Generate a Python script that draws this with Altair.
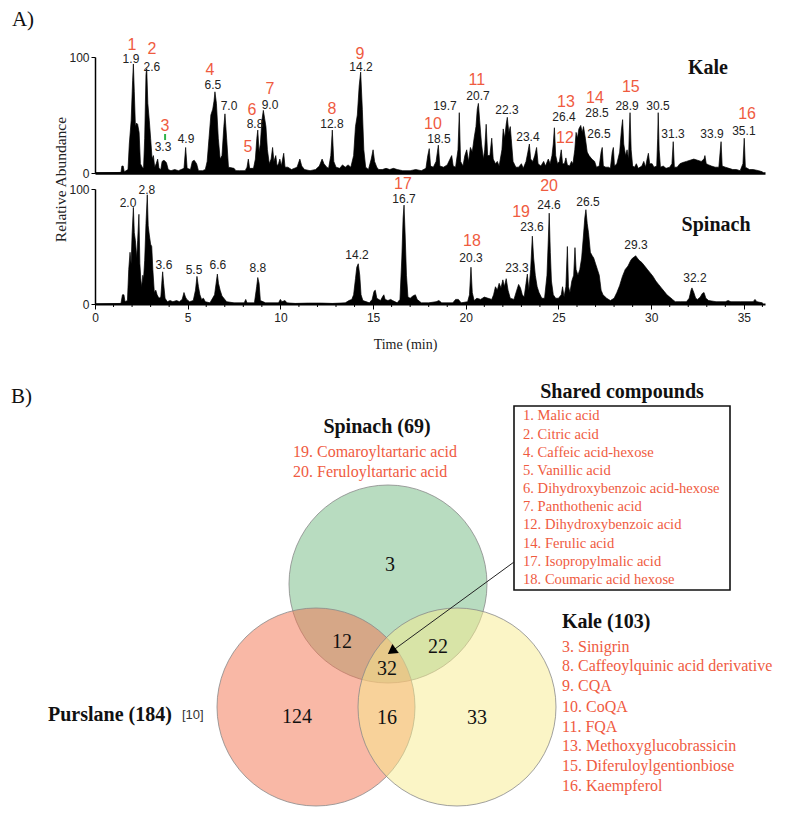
import altair as alt
import pandas as pd

SANS = "Liberation Sans"
SERIF = "Liberation Serif"
RED = "#ef5b3f"
TXT = "#222222"

# ---------------- Chromatogram data (time in min, relative abundance %) ----------------
kale_points = [
    (0.0, 0), (1.40, 0.5), (1.45, 6), (1.52, 6), (1.58, 1),
    (1.78, 3), (1.85, 25), (1.95, 45), (2.03, 80), (2.07, 94), (2.12, 70), (2.18, 40), (2.24, 43), (2.30, 42),
    (2.38, 35), (2.45, 8), (2.55, 5), (2.62, 4),
    (2.68, 30), (2.75, 85), (2.79, 90), (2.85, 60), (2.93, 45), (3.00, 30), (3.08, 12), (3.15, 15), (3.22, 5),
    (3.30, 8), (3.38, 12), (3.45, 4),
    (3.55, 3), (3.62, 10), (3.72, 11), (3.85, 9), (3.95, 3), (4.10, 2), (4.30, 3), (4.50, 2),
    (4.80, 4), (4.89, 22), (4.97, 4),
    (5.15, 3), (5.25, 10), (5.35, 11), (5.48, 8), (5.58, 2), (5.80, 2), (5.95, 3),
    (6.05, 10), (6.15, 30), (6.25, 50), (6.35, 55), (6.42, 62), (6.47, 70), (6.55, 60), (6.65, 30), (6.75, 12),
    (6.85, 15), (6.95, 40), (7.01, 51), (7.10, 30), (7.20, 5),
    (7.50, 4), (7.60, 2), (7.80, 2), (8.10, 2), (8.20, 5), (8.27, 12), (8.34, 4),
    (8.55, 4), (8.65, 12), (8.73, 30), (8.78, 37), (8.85, 18), (8.92, 25), (9.00, 45), (9.08, 54), (9.15, 47),
    (9.22, 40), (9.30, 20), (9.40, 8),
    (9.50, 12), (9.58, 22), (9.65, 10), (9.75, 15), (9.82, 6), (9.90, 8), (9.97, 12), (10.05, 6), (10.12, 12),
    (10.18, 17), (10.25, 5),
    (10.40, 5), (10.60, 3), (10.90, 5), (11.05, 12), (11.15, 6), (11.30, 3), (11.60, 2), (11.90, 3),
    (12.10, 6), (12.25, 12), (12.35, 8), (12.50, 5), (12.60, 4), (12.72, 15), (12.80, 37), (12.88, 10), (13.00, 5),
    (13.20, 4), (13.35, 7), (13.50, 5), (13.65, 7), (13.80, 5),
    (13.95, 15), (14.05, 40), (14.15, 50), (14.25, 75), (14.33, 87), (14.42, 55), (14.50, 20), (14.60, 5),
    (14.75, 3), (14.90, 12), (15.00, 20), (15.08, 10), (15.20, 5), (15.30, 3),
    (15.50, 3), (15.70, 4), (15.90, 3), (16.10, 4), (16.30, 3), (16.60, 2), (17.00, 2), (17.30, 3), (17.60, 2),
    (17.85, 4), (17.95, 15), (18.03, 21), (18.10, 6), (18.25, 5), (18.40, 10), (18.52, 24), (18.60, 6),
    (18.80, 5), (19.00, 7), (19.15, 12), (19.24, 15), (19.32, 6), (19.45, 5), (19.58, 20), (19.65, 52), (19.72, 10),
    (19.85, 6), (19.95, 15), (20.05, 20), (20.15, 10), (20.25, 22), (20.35, 18), (20.45, 30), (20.55, 40),
    (20.62, 55), (20.68, 60), (20.75, 45), (20.85, 25), (20.95, 12),
    (21.02, 20), (21.10, 42), (21.18, 15), (21.30, 15), (21.40, 30), (21.48, 12), (21.60, 8), (21.70, 10), (21.80, 6),
    (21.95, 20), (22.02, 38), (22.10, 30), (22.18, 42), (22.24, 48), (22.32, 35), (22.40, 40), (22.45, 30),
    (22.55, 10), (22.70, 5),
    (22.85, 5), (23.00, 8), (23.10, 4), (23.25, 10), (23.35, 18), (23.43, 25), (23.50, 12), (23.62, 10),
    (23.72, 15), (23.82, 22), (23.90, 8),
    (24.05, 6), (24.20, 10), (24.30, 6), (24.45, 12), (24.55, 8), (24.65, 15), (24.72, 25), (24.78, 39),
    (24.85, 15), (24.95, 8),
    (25.05, 10), (25.15, 20), (25.22, 8), (25.32, 8), (25.40, 13), (25.48, 7), (25.60, 6), (25.70, 10), (25.78, 8),
    (25.88, 20), (25.95, 35), (26.02, 30), (26.10, 38), (26.20, 41), (26.28, 35), (26.35, 40), (26.45, 30),
    (26.55, 18), (26.65, 15), (26.80, 12), (26.95, 10), (27.05, 5),
    (27.20, 6), (27.30, 18), (27.36, 22), (27.42, 6), (27.55, 5), (27.70, 5), (27.80, 4),
    (27.90, 18), (27.96, 22), (28.02, 6), (28.15, 8), (28.30, 18), (28.40, 38), (28.46, 46), (28.52, 25),
    (28.62, 15), (28.70, 20), (28.78, 12), (28.82, 35), (28.86, 52), (28.92, 20), (29.00, 6),
    (29.10, 5), (29.20, 8), (29.30, 4), (29.50, 6), (29.60, 10), (29.70, 5), (29.78, 12), (29.85, 17), (29.92, 8),
    (30.05, 8), (30.15, 5),
    (30.30, 6), (30.35, 30), (30.38, 52), (30.43, 20), (30.50, 5), (30.65, 6), (30.80, 4), (31.00, 5),
    (31.12, 8), (31.19, 27), (31.25, 5), (31.40, 5), (31.55, 8), (31.70, 9), (31.90, 10), (32.10, 11), (32.30, 12),
    (32.50, 11), (32.70, 10), (32.85, 12), (32.90, 15), (32.97, 8), (33.10, 7), (33.25, 6), (33.45, 5),
    (33.65, 5), (33.72, 18), (33.77, 27), (33.83, 6), (34.00, 5), (34.20, 4), (34.40, 3), (34.60, 3), (34.80, 2),
    (34.95, 8), (35.02, 30), (35.08, 5), (35.30, 3), (35.50, 3), (35.80, 2), (36.00, 1),
]

spinach_points = [
    (0.0, 0), (1.40, 0.5), (1.48, 8), (1.56, 8), (1.62, 2), (1.75, 3), (1.82, 30), (1.89, 45), (1.95, 35),
    (2.00, 60), (2.07, 84), (2.12, 62), (2.18, 55), (2.25, 40), (2.30, 55), (2.37, 78), (2.42, 35), (2.48, 20),
    (2.52, 15), (2.58, 25), (2.62, 22), (2.68, 38), (2.75, 70), (2.82, 95), (2.87, 68), (2.93, 60), (3.00, 52),
    (3.06, 50), (3.12, 30), (3.20, 10), (3.28, 12), (3.35, 8), (3.45, 5), (3.55, 6), (3.62, 22), (3.65, 28),
    (3.70, 18), (3.78, 5), (3.90, 2), (4.05, 3), (4.20, 2), (4.40, 3), (4.55, 2), (4.70, 4), (4.80, 10),
    (4.88, 6), (4.95, 4), (5.10, 2), (5.30, 3), (5.42, 12), (5.50, 24), (5.58, 15), (5.66, 8), (5.75, 4),
    (5.85, 5), (5.95, 2), (6.20, 1), (6.45, 8), (6.55, 20), (6.60, 26), (6.66, 18), (6.75, 12), (6.85, 7),
    (6.95, 5), (7.10, 2), (7.50, 1), (8.05, 1), (8.13, 4), (8.20, 1), (8.60, 1), (8.72, 15), (8.78, 23),
    (8.85, 18), (8.92, 3), (9.20, 1), (9.90, 1), (10.00, 4), (10.08, 2), (10.25, 3), (10.35, 1), (10.80, 0.5),
    (11.50, 0.8), (12.20, 0.8), (12.80, 0.5), (13.50, 1), (13.70, 3), (13.85, 4), (13.95, 8), (14.05, 22),
    (14.12, 32), (14.20, 35), (14.28, 25), (14.35, 8), (14.45, 3), (14.80, 1), (14.95, 4), (15.05, 11),
    (15.12, 12), (15.20, 5), (15.40, 3), (15.50, 6), (15.58, 8), (15.65, 4), (15.80, 3), (15.95, 4), (16.05, 3),
    (16.30, 1), (16.45, 4), (16.55, 40), (16.62, 75), (16.67, 86), (16.73, 60), (16.80, 25), (16.88, 6),
    (17.00, 5), (17.15, 7), (17.28, 8), (17.38, 4), (17.60, 1), (18.00, 1), (18.40, 2), (18.55, 3), (18.70, 1),
    (19.30, 1), (19.45, 4), (19.60, 4), (19.75, 1), (20.10, 2), (20.20, 8), (20.28, 32), (20.35, 10),
    (20.45, 3), (20.60, 5), (20.80, 4), (21.00, 6), (21.20, 5), (21.40, 4), (21.50, 8), (21.60, 15), (21.70, 12),
    (21.80, 18), (21.90, 14), (22.00, 21), (22.08, 15), (22.18, 22), (22.28, 12), (22.40, 5), (22.60, 4),
    (22.75, 12), (22.85, 17), (22.95, 14), (23.05, 8), (23.15, 6), (23.25, 18), (23.32, 26), (23.40, 12),
    (23.50, 30), (23.59, 59), (23.66, 40), (23.75, 25), (23.85, 15), (23.95, 10), (24.10, 5), (24.25, 5),
    (24.38, 25), (24.45, 55), (24.50, 79), (24.56, 45), (24.62, 20), (24.72, 8), (24.85, 5), (25.00, 5),
    (25.15, 8), (25.22, 15), (25.30, 6), (25.40, 15), (25.48, 50), (25.54, 15), (25.62, 10), (25.72, 20),
    (25.82, 25), (25.89, 49), (25.95, 30), (26.05, 25), (26.15, 30), (26.25, 40), (26.35, 60), (26.42, 75),
    (26.48, 82), (26.55, 70), (26.62, 62), (26.72, 45), (26.82, 42), (26.90, 40), (27.00, 35), (27.10, 30),
    (27.20, 25), (27.30, 12), (27.40, 8), (27.60, 5), (27.80, 3), (28.00, 5), (28.15, 10), (28.30, 16),
    (28.45, 24), (28.60, 30), (28.75, 33), (28.90, 38), (29.00, 40), (29.10, 41), (29.16, 42), (29.25, 40),
    (29.35, 38), (29.50, 36), (29.65, 33), (29.80, 30), (29.95, 27), (30.10, 24), (30.25, 20), (30.40, 17),
    (30.55, 14), (30.70, 11), (30.85, 8), (31.00, 6), (31.15, 4), (31.30, 2), (31.60, 2), (31.90, 2),
    (32.05, 5), (32.15, 12), (32.20, 14), (32.30, 10), (32.40, 5), (32.50, 4), (32.65, 6), (32.75, 9),
    (32.85, 10), (32.95, 5), (33.10, 3), (33.50, 2), (34.00, 2), (34.15, 3), (34.30, 2), (34.80, 2),
    (35.50, 2), (35.60, 4), (35.70, 2), (36.00, 1),
]

# retention-time labels (time, abundance, text)
kale_rt_labels = [
    (1.94, 98, "1.9"), (3.07, 91, "2.6"), (3.67, 22, "3.3"), (4.91, 29, "4.9"), (6.36, 76, "6.5"),
    (7.23, 58, "7.0"), (8.63, 42, "8.8"), (9.44, 59, "9.0"), (12.78, 42, "12.8"), (14.35, 91, "14.2"),
    (18.55, 29, "18.5"), (18.88, 58, "19.7"), (20.66, 66, "20.7"), (22.22, 54, "22.3"), (23.35, 31, "23.4"),
    (25.30, 48, "26.4"), (27.08, 52, "28.5"), (27.18, 34, "26.5"), (28.70, 58, "28.9"), (30.37, 58, "30.5"),
    (31.18, 34, "31.3"), (33.28, 34, "33.9"), (35.00, 36, "35.1"),
]
kale_ids = [
    (2.00, 110, "1"), (3.07, 107, "2"), (3.78, 40.5, "3"), (6.20, 89, "4"), (8.25, 22, "5"), (8.47, 54, "6"),
    (9.44, 72, "7"), (12.78, 55, "8"), (14.29, 103, "9"), (18.23, 42, "10"), (20.60, 80, "11"),
    (25.35, 30, "12"), (25.40, 61, "13"), (26.97, 65, "14"), (28.90, 74, "15"), (35.17, 51, "16"),
]
spinach_rt_labels = [
    (1.78, 88, "2.0"), (2.80, 99, "2.8"), (3.72, 34, "3.6"), (5.34, 30, "5.5"), (6.63, 34, "6.6"),
    (8.79, 31, "8.8"), (14.13, 43, "14.2"), (16.67, 91, "16.7"), (20.28, 40, "20.3"), (22.76, 31, "23.3"),
    (23.57, 67, "23.6"), (24.49, 86, "24.6"), (26.59, 89, "26.5"), (29.18, 51, "29.3"), (32.36, 23, "32.2"),
]
spinach_ids = [(16.61, 104, "17"), (20.33, 55, "18"), (22.98, 80, "19"), (24.49, 103, "20")]

sample_names = [(33.06, 90.5, "Kale")]
sample_names_sp = [(33.50, 69, "Spinach")]
panel_a = [(-4.48, 132, "A)")]
green_tick = [(3.78, 33.6, 28.4)]

X_MAX = 36.14
major_ticks = [0, 5, 10, 15, 20, 25, 30, 35]
minor_ticks = [t for t in range(1, 37) if t % 5 != 0]
minor_tick_len = [0, -2.6]   # abundance span of a minor tick below the baseline

# ---------------- Venn data ----------------
circle_names = ["Spinach", "Purslane", "Kale"]
circle_cx = [388, 316, 457]
circle_cy = [582, 705, 705]
circle_colors = ["#71b981", "#f3714d", "#f7ec8d"]

region_counts = ["3", "12", "22", "32", "124", "16", "33"]
region_x = [390, 342, 438, 387, 297, 387, 477]
region_y = [563, 640, 645, 667, 715, 716, 716]

set_titles = ["Spinach (69)", "Shared compounds"]
set_title_x = [377, 622]
set_title_y = [425, 390]
left_titles = ["Kale (103)", "Purslane (184)"]
left_title_x = [562, 48]
left_title_y = [620, 713]

spinach_only = ["19. Comaroyltartaric acid", "20. Feruloyltartaric acid"]
spinach_only_y = [450, 470]
shared = ["1. Malic acid", "2. Citric acid", "4. Caffeic acid-hexose", "5. Vanillic acid",
          "6. Dihydroxybenzoic acid-hexose", "7. Panthothenic acid", "12. Dihydroxybenzoic acid",
          "14. Ferulic acid", "17. Isopropylmalic acid", "18. Coumaric acid hexose"]
shared_y = [414, 433, 451, 469, 487, 505, 523, 542, 560, 578]
kale_only = ["3. Sinigrin", "8. Caffeoylquinic acid derivative", "9. CQA", "10. CoQA", "11. FQA",
             "13. Methoxyglucobrassicin", "15. Diferuloylgentionbiose", "16. Kaempferol"]
kale_only_y = [645, 664, 684, 705, 725, 744, 764, 784]

box = [(514, 730, 404, 588)]
arrow = [(514, 560, 391.7, 649.3)]
arrow_head = [(391.7, 649.3)]
panel_b = [(11, 395, "B)")]
ref_note = [(182, 713, "[10]")]

# ---------------- Chromatogram panels ----------------
xs = alt.Scale(domain=[0, X_MAX], nice=False, zero=False)
ys = alt.Scale(domain=[0, 100], nice=False)

y_axis_common = dict(values=[0, 100], labelFont=SANS, labelFontSize=12, labelColor=TXT,
                     tickSize=4, tickColor="black", domainColor="black", domainWidth=1.5,
                     grid=False, labelPadding=2)

kale_x_axis = alt.Axis(labels=False, ticks=False, title=None, grid=False,
                       domainColor="black", domainWidth=2.5)
kale_y_axis = alt.Axis(title="Relative Abundance", titleFont=SERIF, titleFontSize=15.5,
                       titleFontWeight="normal", titleColor=TXT, titleAngle=270,
                       titleX=-35, titleY=122, titleAlign="center", titleBaseline="middle",
                       **y_axis_common)
sp_x_axis = alt.Axis(values=major_ticks, labelOverlap=False, labelFlush=False, tickSize=5,
                     tickColor="black", tickWidth=1, domainColor="black", domainWidth=2, grid=False,
                     labelFont=SANS, labelFontSize=12, labelColor=TXT, labelPadding=3,
                     title="Time (min)", titleFont=SERIF, titleFontSize=14, titleFontWeight="normal",
                     titleColor=TXT, titleX=310, titleY=40, titleAlign="center", titleBaseline="middle")
sp_y_axis = alt.Axis(title=None, **y_axis_common)


def area_layer(points, xa, ya):
    return alt.Chart(pd.DataFrame(points, columns=["t", "v"])).mark_area(
        color="black", stroke="black", strokeWidth=0.7, interpolate="linear"
    ).encode(x=alt.X("t:Q", scale=xs, axis=xa), y=alt.Y("v:Q", scale=ys, axis=ya))


def text_layer(rows, xa, ya, **kw):
    return alt.Chart(pd.DataFrame(rows, columns=["t", "v", "label"])).mark_text(**kw).encode(
        x=alt.X("t:Q", scale=xs, axis=xa),
        y=alt.Y("v:Q", scale=ys, axis=ya),
        text="label:N",
    )


green = alt.Chart(pd.DataFrame(green_tick, columns=["t", "v", "v2"])).mark_rule(
    color="#2fb34a", strokeWidth=2
).encode(x=alt.X("t:Q", scale=xs, axis=kale_x_axis), y=alt.Y("v:Q", scale=ys, axis=kale_y_axis), y2="v2:Q")

kale = alt.layer(
    area_layer(kale_points, kale_x_axis, kale_y_axis),
    green,
    text_layer(kale_rt_labels, kale_x_axis, kale_y_axis, font=SANS, fontSize=12, color=TXT),
    text_layer(kale_ids, kale_x_axis, kale_y_axis, font=SANS, fontSize=16, color=RED),
    text_layer(sample_names, kale_x_axis, kale_y_axis, font=SERIF, fontSize=20, fontWeight="bold", color="#111"),
    text_layer(panel_a, kale_x_axis, kale_y_axis, font=SERIF, fontSize=21, color="#111", align="left"),
).properties(width=670, height=116)

minor_df = pd.DataFrame({"t": minor_ticks, "v": minor_tick_len[0], "v2": minor_tick_len[1]})
minor_layer = alt.Chart(minor_df).mark_rule(color="black", strokeWidth=1).encode(
    x=alt.X("t:Q", scale=xs, axis=sp_x_axis), y=alt.Y("v:Q", scale=ys, axis=sp_y_axis), y2="v2:Q"
)

spinach = alt.layer(
    area_layer(spinach_points, sp_x_axis, sp_y_axis),
    minor_layer,
    text_layer(spinach_rt_labels, sp_x_axis, sp_y_axis, font=SANS, fontSize=12, color=TXT),
    text_layer(spinach_ids, sp_x_axis, sp_y_axis, font=SANS, fontSize=16, color=RED),
    text_layer(sample_names_sp, sp_x_axis, sp_y_axis, font=SERIF, fontSize=20, fontWeight="bold", color="#111"),
).properties(width=670, height=115)

# ---------------- Venn panel ----------------
vx = alt.Scale(domain=[95, 765], nice=False, zero=False)
vy = alt.Scale(domain=[318, 808], nice=False, zero=False, reverse=True)


def vtext(xs_, ys_, labels, **kw):
    df = pd.DataFrame({"x": xs_, "y": ys_, "label": labels})
    return alt.Chart(df).mark_text(**kw).encode(
        x=alt.X("x:Q", scale=vx, axis=None),
        y=alt.Y("y:Q", scale=vy, axis=None),
        text="label:N",
    )


circles = alt.Chart(pd.DataFrame({"name": circle_names, "cx": circle_cx, "cy": circle_cy})).mark_point(
    shape="circle", filled=True, size=39204, opacity=1, fillOpacity=0.5,
    stroke="#8a8a8a", strokeWidth=1, strokeOpacity=0.8
).encode(
    x=alt.X("cx:Q", scale=vx, axis=None),
    y=alt.Y("cy:Q", scale=vy, axis=None),
    fill=alt.Fill("name:N", scale=alt.Scale(domain=circle_names, range=circle_colors), legend=None),
)

box_layer = alt.Chart(pd.DataFrame(box, columns=["x", "x2", "y", "y2"])).mark_rect(
    fillOpacity=0, stroke="#111", strokeWidth=1.6
).encode(x=alt.X("x:Q", scale=vx, axis=None), x2="x2:Q",
         y=alt.Y("y:Q", scale=vy, axis=None), y2="y2:Q")

arrow_layer = alt.Chart(pd.DataFrame(arrow, columns=["x", "y", "x2", "y2"])).mark_rule(
    color="#222", strokeWidth=1
).encode(x=alt.X("x:Q", scale=vx, axis=None), x2="x2:Q",
         y=alt.Y("y:Q", scale=vy, axis=None), y2="y2:Q")

head_layer = alt.Chart(pd.DataFrame(arrow_head, columns=["x", "y"])).mark_point(
    shape="triangle-up", filled=True, size=120, angle=234, color="black", opacity=1
).encode(x=alt.X("x:Q", scale=vx, axis=None), y=alt.Y("y:Q", scale=vy, axis=None))

venn = alt.layer(
    circles,
    box_layer,
    arrow_layer,
    head_layer,
    vtext(region_x, region_y, region_counts, font=SERIF, fontSize=20, color="#111"),
    vtext(set_title_x, set_title_y, set_titles, font=SERIF, fontSize=20, fontWeight="bold", color="#111"),
    vtext(left_title_x, left_title_y, left_titles, font=SERIF, fontSize=20, fontWeight="bold",
          color="#111", align="left"),
    vtext([293] * len(spinach_only), spinach_only_y, spinach_only, font=SERIF, fontSize=16, color=RED,
          align="left"),
    vtext([523] * len(shared), shared_y, shared, font=SERIF, fontSize=14.6, color=RED, align="left"),
    vtext([562] * len(kale_only), kale_only_y, kale_only, font=SERIF, fontSize=16, color=RED, align="left"),
    vtext([p[0] for p in panel_b], [p[1] for p in panel_b], [p[2] for p in panel_b],
          font=SERIF, fontSize=21, color="#111", align="left"),
    vtext([p[0] for p in ref_note], [p[1] for p in ref_note], [p[2] for p in ref_note],
          font=SANS, fontSize=13, color="#333", align="left"),
).properties(width=670, height=490)

chart = alt.vconcat(kale, spinach, venn, spacing=16, bounds="flush").properties(
    padding={"left": 3, "top": 0, "right": 0, "bottom": 0}
).configure_view(stroke="transparent", strokeWidth=0)

chart.save("out.html", embed_options={"renderer": "svg", "actions": False})
